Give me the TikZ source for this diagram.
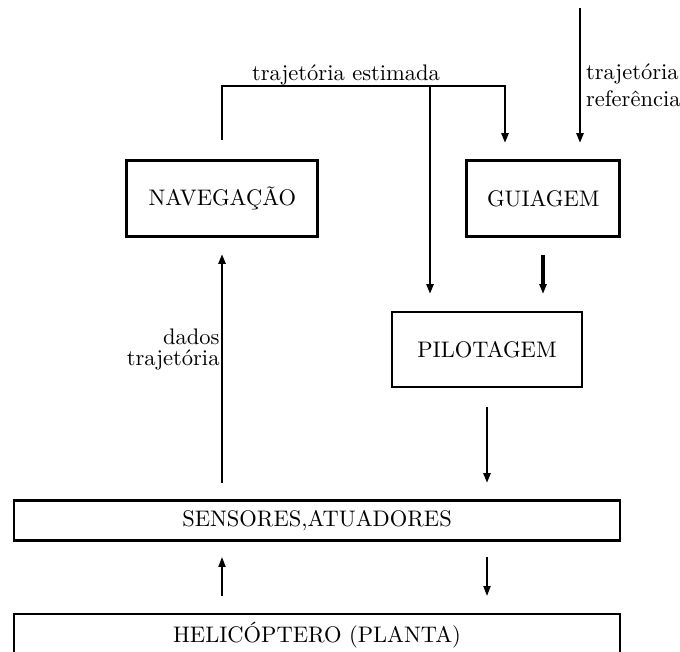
\documentclass[tikz,border=0pt]{standalone}
\usetikzlibrary{arrows.meta}
\def\u{0.4444pt}
\tikzset{
  x=0.4444pt, y=-0.4444pt,
  block/.style={draw, line width=1.3pt, inner sep=0pt, outer sep=0pt, font=\fontsize{10}{12}\selectfont},
  lbl/.style={inner sep=0pt, outer sep=0pt, font=\fontsize{10}{12}\selectfont},
  thickline/.style={line width=1.1pt, -{Triangle[length=4.4pt,width=3.1pt]}},
  thinline/.style={line width=0.8pt, -{Triangle[length=4.4pt,width=3.1pt]}},
}
\begin{document}
\begin{tikzpicture}
\useasboundingbox (0,0) rectangle (680,652);
% boxes
\node[block, minimum width={191*\u}, minimum height={76*\u}] (nav) at (222.3,198.7) {NAVEGAÇÃO};
\node[block, minimum width={153*\u}, minimum height={76*\u}] (gui) at (543.3,198.7) {GUIAGEM};
\node[block, minimum width={190*\u}, minimum height={75*\u}] (pil) at (487,349.5) {PILOTAGEM};
\node[block, minimum width={606*\u}, minimum height={39.5*\u}] (sen) at (317,520.3) {SENSORES,ATUADORES};
\node[block, minimum width={606*\u}, minimum height={42*\u}] (hel) at (317,635) {HELICÓPTERO (PLANTA)};
% coordinates for connectors
\coordinate (navout) at (222,140);
\coordinate (corner) at (505,86);
\coordinate (split) at (430,86);
\coordinate (guiin) at (505,143);
\coordinate (pilin1) at (430,294);
\coordinate (reftop) at (580,8);
\coordinate (refin) at (580,143);
\coordinate (guiout) at (543,255);
\coordinate (pilin2) at (543,294);
\coordinate (pilout) at (487,407);
\coordinate (senin) at (487,483);
\coordinate (senout) at (222,483);
\coordinate (navin) at (222,254);
\coordinate (helout) at (222,596);
\coordinate (senin2) at (222,557);
\coordinate (senout2) at (487,557);
\coordinate (helin) at (487,596);
% connectors
\draw[thickline] (navout) |- (corner) -- (guiin);
\draw[thickline] (split) -- (pilin1);
\draw[thickline] (reftop) -- (refin);
\draw[thickline, line width=1.4pt] (guiout) -- (pilin2);
\draw[thickline] (pilout) -- (senin);
\draw[thickline] (senout) -- (navin);
\draw[thinline] (helout) -- (senin2);
\draw[thinline] (senout2) -- (helin);
% labels
\node[lbl, anchor=base] (lest) at (346,80.5) {trajetória estimada};
\node[lbl, anchor=base west] (lref1) at (586,80) {trajetória};
\node[lbl, anchor=base west] (lref2) at (586,107) {referência};
\node[lbl, anchor=base east] (ldad1) at (219.5,344.5) {dados};
\node[lbl, anchor=base east] (ldad2) at (219.5,365.5) {trajetória};
\end{tikzpicture}
\end{document}
